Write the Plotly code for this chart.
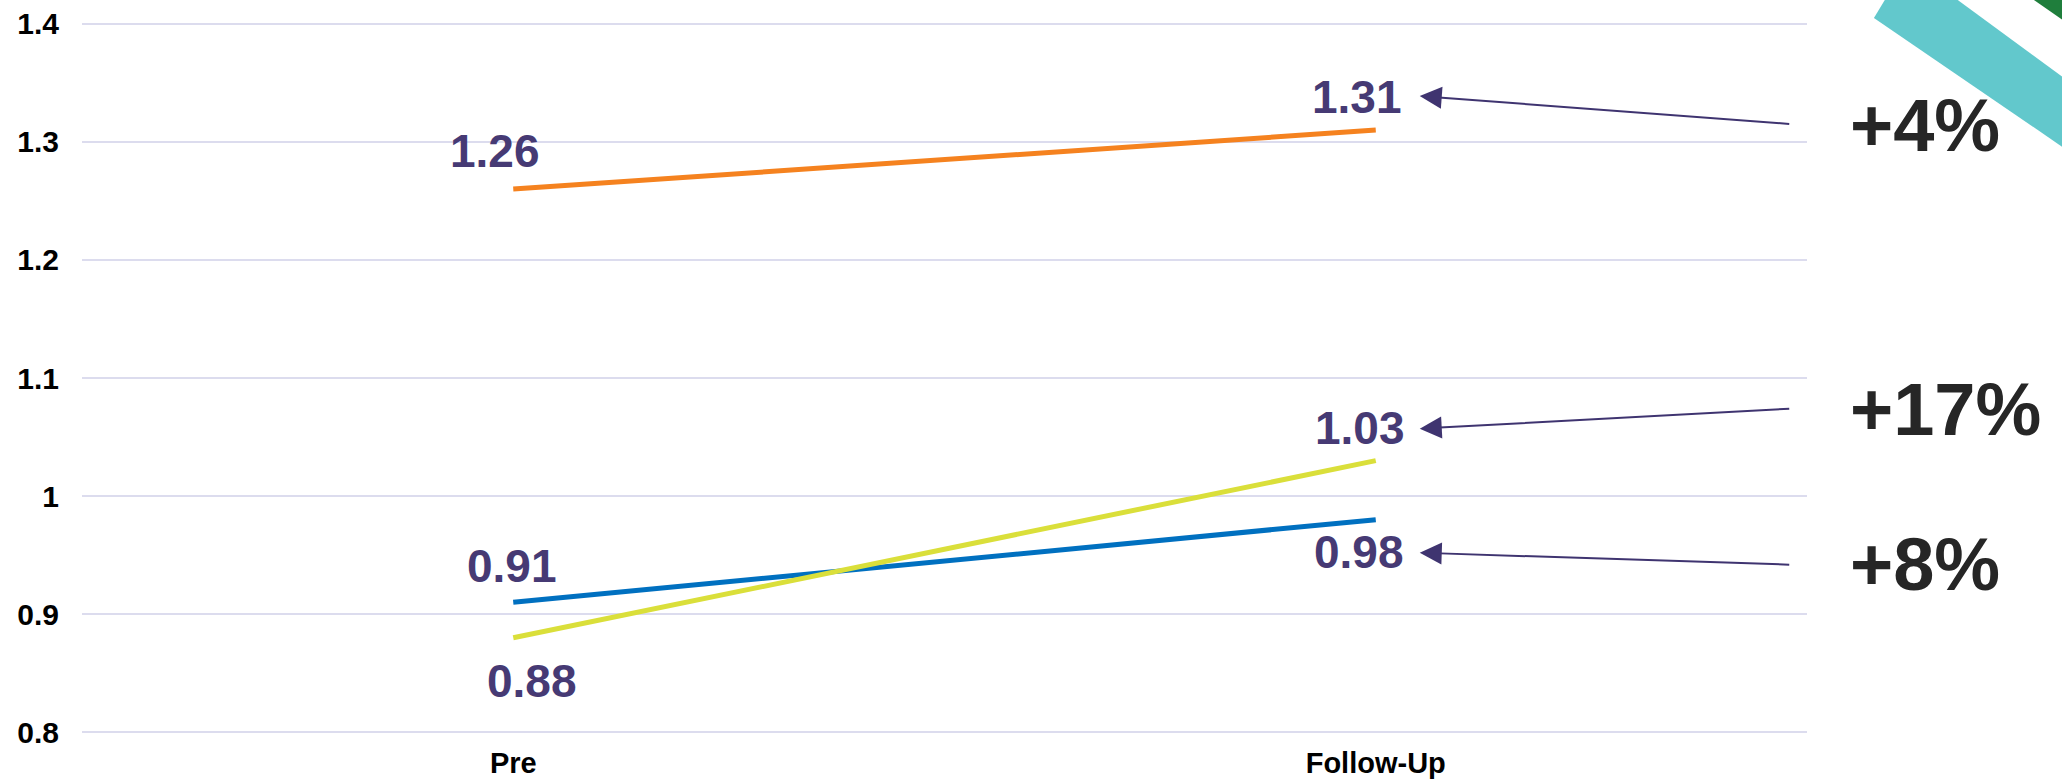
import plotly.graph_objects as go

categories = ["Pre", "Follow-Up"]
series_orange = [1.26, 1.31]
series_blue = [0.91, 0.98]
series_yellow = [0.88, 1.03]
change_labels = ["+4%", "+17%", "+8%"]
y_ticks = [0.8, 0.9, 1.0, 1.1, 1.2, 1.3, 1.4]
y_tick_text = ["0.8", "0.9", "1", "1.1", "1.2", "1.3", "1.4"]

W, H = 2062, 784
ML, MR, MT, MB = 82, 255, 22, 50
PW, PH = W - ML - MR, H - MT - MB

FONT = "Liberation Sans, Arial, sans-serif"
LABEL_COLOR = "#463A74"
ARROW_COLOR = "#3F3470"

fig = go.Figure()
for vals, col in [(series_orange, "#F5821F"), (series_blue, "#0070C0"), (series_yellow, "#DADF3A")]:
    fig.add_trace(go.Scatter(x=categories, y=vals, mode="lines",
                             line=dict(color=col, width=5), showlegend=False,
                             hoverinfo="skip"))

# data labels (category, value, xshift, yshift)
label_specs = [
    (0, series_orange[0], -18, 38),
    (1, series_orange[1], -19, 33),
    (0, series_blue[0], -1, 36),
    (1, series_blue[1], -17, -32),
    (0, series_yellow[0], 19, -43),
    (1, series_yellow[1], -16, 33),
]
annotations = []
for ci, v, xs, ys in label_specs:
    annotations.append(dict(x=categories[ci], y=v, text=f"<b>{v:.2f}</b>", showarrow=False,
                            xshift=xs, yshift=ys, xanchor="center", yanchor="middle",
                            font=dict(family=FONT, size=46, color=LABEL_COLOR)))

# arrows from change labels to follow-up values
arrow_specs = [
    (series_orange[1], 34, 28, change_labels[0], 5),
    (series_yellow[1], 32, -20, change_labels[1], 51),
    (series_blue[1], -33, 12, change_labels[2], -45),
]
for v, ys, ay, txt, tys in arrow_specs:
    annotations.append(dict(x=categories[1], y=v, text="", showarrow=True,
                            xshift=44, yshift=ys, ax=371, ay=ay,
                            arrowhead=2, arrowsize=2.2, arrowwidth=2,
                            arrowcolor=ARROW_COLOR, standoff=0))
    annotations.append(dict(x=categories[1], y=v, text=f"<b>{txt}</b>", showarrow=False,
                            xshift=472, yshift=tys, xanchor="left", yanchor="middle",
                            font=dict(family=FONT, size=74, color="#262626")))

def px2paper(px, py):
    return (px - ML) / PW, (H - MB - py) / PH

def path(points):
    pts = [px2paper(*p) for p in points]
    return "M " + " L ".join(f"{x:.4f},{y:.4f}" for x, y in pts) + " Z"

shapes = [
    dict(type="path", xref="paper", yref="paper",
         path=path([(1874, 18), (1886, -2), (1955, -2), (2064, 78), (2064, 148)]),
         fillcolor="#62C8CC", line=dict(width=0), layer="above"),
    dict(type="path", xref="paper", yref="paper",
         path=path([(2031, -2), (2064, -2), (2064, 21)]),
         fillcolor="#1F7E3C", line=dict(width=0), layer="above"),
]

fig.update_layout(
    width=W, height=H,
    margin=dict(l=ML, r=MR, t=MT, b=MB, pad=0, autoexpand=False),
    paper_bgcolor="white", plot_bgcolor="white",
    annotations=annotations, shapes=shapes,
    font=dict(family=FONT, color="black"),
    xaxis=dict(type="category", range=[-0.5, 1.5], showgrid=False, zeroline=False,
               showline=False, ticks="", automargin=False,
               tickfont=dict(family=FONT, size=29, color="black"),
               ticklabelstandoff=9, tickprefix="<b>", ticksuffix="</b>"),
    yaxis=dict(range=[0.7985, 1.4015], tickvals=y_ticks, automargin=False,
               ticktext=[f"<b>{t}</b>" for t in y_tick_text],
               showgrid=True, gridcolor="#DCDCEE", gridwidth=2, zeroline=False,
               showline=False, ticks="", tickfont=dict(family=FONT, size=30, color="black"),
               ticklabelstandoff=22),
)

fig.write_html("out.html", config={"displayModeBar": False},
               post_script="document.body.style.margin='0';document.body.style.padding='0';")
